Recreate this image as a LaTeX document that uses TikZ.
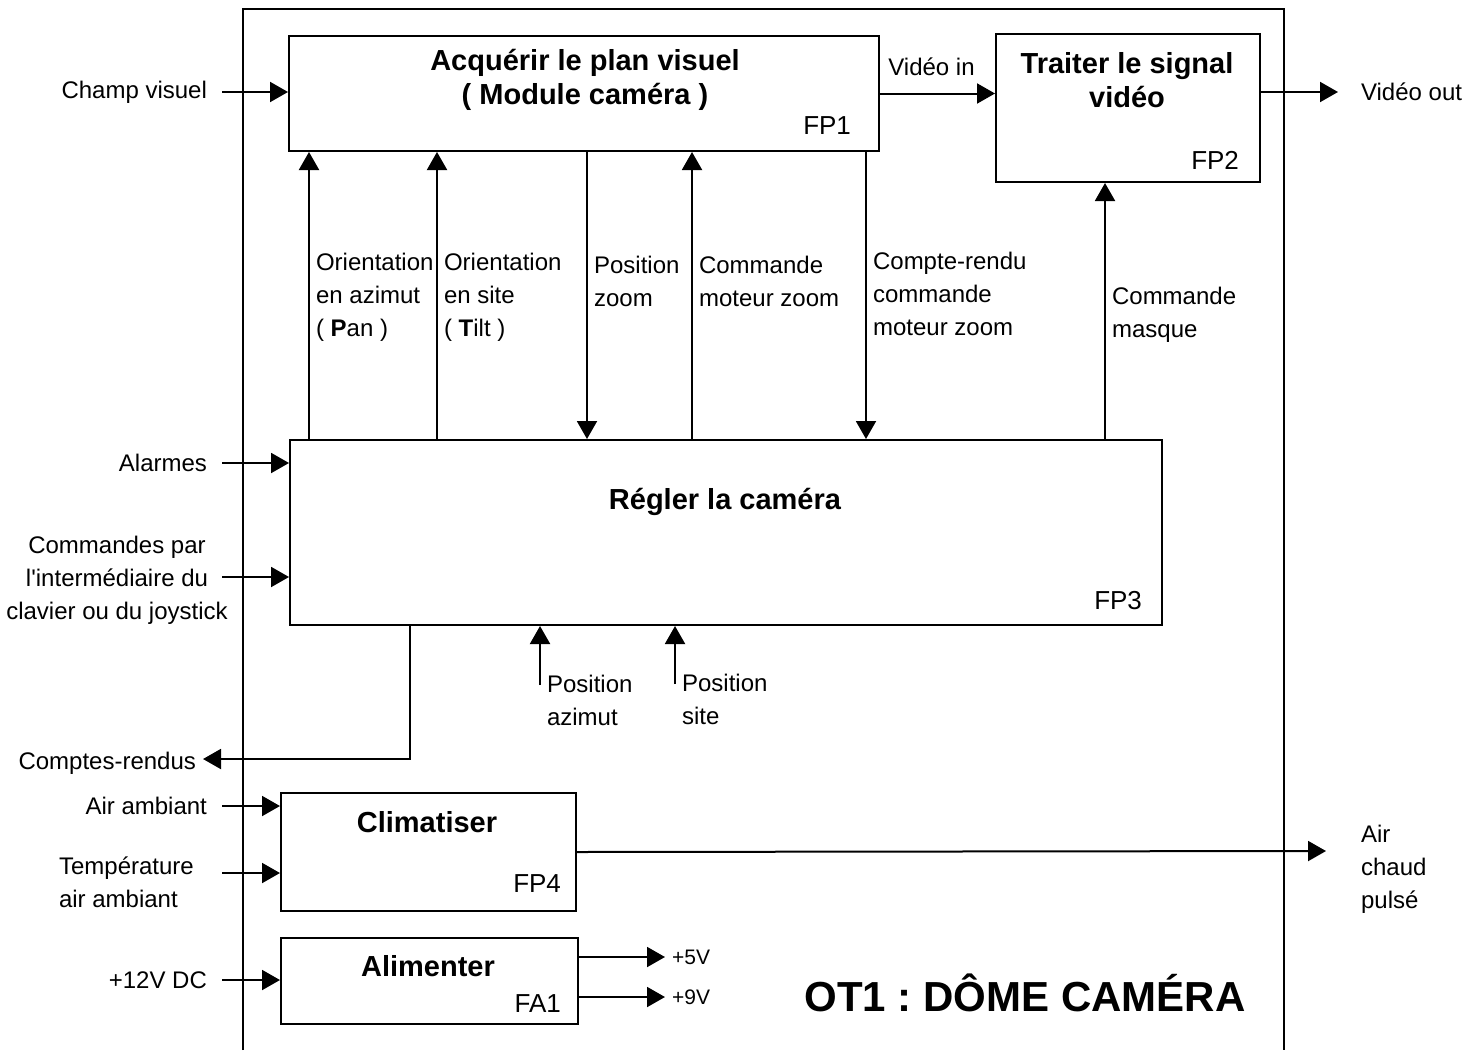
\documentclass[tikz,border=0pt]{standalone}
\usepackage{fontspec}
\setmainfont{Liberation Sans}
\usetikzlibrary{arrows.meta,positioning,calc}
\frenchspacing

\begin{document}
\begin{tikzpicture}[
    x=0.5pt, y=-0.5pt,
    font=\fontsize{12}{16.5}\selectfont,
    fbox/.style={draw, line width=1pt, anchor=north west, inner sep=0pt},
    title/.style={font=\fontsize{14.5}{17}\selectfont\bfseries, align=center},
    fpnum/.style={font=\fontsize{13}{15}\selectfont, anchor=east},
    lbl/.style={align=left},
    arrow/.style={-{Triangle[length=9pt, width=10pt]}, line width=1pt}
]
\useasboundingbox (0,0) rectangle (1482,1050);

% frame of the system
\draw[line width=1pt] (243,1050) -- (243,9) -- (1284,9) -- (1284,1050);

% functions
\node[fbox, minimum width=295pt, minimum height=57.5pt] (fp1) at (288,35) {};
\node[fbox, minimum width=132pt, minimum height=74pt] (fp2) at (995,33) {};
\node[fbox, minimum width=436pt, minimum height=92.5pt] (fp3) at (289,439) {};
\node[fbox, minimum width=147.5pt, minimum height=59pt] (fp4) at (280,792) {};
\node[fbox, minimum width=148.5pt, minimum height=43pt] (fa1) at (280,937) {};

\node[title] (fp1t) at (585,80) {Acquérir le plan visuel\\( Module caméra )};
\node[title] (fp2t) at (1127,80) {Traiter le signal\\vidéo};
\node[title] (fp3t) at (725,502) {Régler la caméra};
\node[title] (fp4t) at (427,822) {Climatiser};
\node[title] (fa1t) at (428,966) {Alimenter};

\node[fpnum] (fp1n) at (858,126) {FP1};
\node[fpnum] (fp2n) at (1246,160) {FP2};
\node[fpnum] (fp3n) at (1149,601) {FP3};
\node[fpnum] (fp4n) at (568,884) {FP4};
\node[fpnum] (fa1n) at (568,1004) {FA1};

% inputs
\coordinate (champin) at (222,92);
\node[left=4pt of champin] (champ) {Champ visuel};
\draw[arrow] (champin) -- (champin -| fp1.west);

\coordinate (alarmin) at (222,463);
\node[left=4pt of alarmin] (alarm) {Alarmes};
\draw[arrow] (alarmin) -- (alarmin -| fp3.west);

\coordinate (cmdin) at (222,577);
\node[align=center] (cmds) at (117,580) {Commandes par\\l\textquotesingle intermédiaire du\\clavier ou du joystick};
\draw[arrow] (cmdin) -- (cmdin -| fp3.west);

\coordinate (airin) at (222,806);
\node[left=4pt of airin] (air) {Air ambiant};
\draw[arrow] (airin) -- (airin -| fp4.west);

\coordinate (tempin) at (222,873);
\node[lbl, anchor=west] (temp) at (52,882) {Température\\air ambiant};
\draw[arrow] (tempin) -- (tempin -| fp4.west);

\coordinate (v12in) at (222,980);
\node[left=4pt of v12in] (v12) {+12V DC};
\draw[arrow] (v12in) -- (v12in -| fa1.west);

% links between functions
\draw[arrow] (fp1.east) -- (fp1.east -| fp2.west) node[midway, above=5pt, xshift=-3pt] (vidin) {Vidéo in};

\node[lbl, anchor=west] (pan) at (309,297) {Orientation\\en azimut\\( \textbf{P}an )};
\node[lbl, anchor=west] (tilt) at (437,297) {Orientation\\en site\\( \textbf{T}ilt )};
\node[lbl, anchor=west] (poszoom) at (587,281) {Position\\zoom};
\node[lbl, anchor=west] (cmdzoom) at (692,281) {Commande\\moteur zoom};
\node[lbl, anchor=west] (crzoom) at (866,294) {Compte-rendu\\commande\\moteur zoom};
\node[lbl, anchor=west] (masque) at (1105,315) {Commande\\masque};

\draw[arrow] (pan.west |- fp3.north) -- (pan.west |- fp1.south);
\draw[arrow] (tilt.west |- fp3.north) -- (tilt.west |- fp1.south);
\draw[arrow] (poszoom.west |- fp1.south) -- (poszoom.west |- fp3.north);
\draw[arrow] (cmdzoom.west |- fp3.north) -- (cmdzoom.west |- fp1.south);
\draw[arrow] (crzoom.west |- fp1.south) -- (crzoom.west |- fp3.north);
\draw[arrow] (masque.west |- fp3.north) -- (masque.west |- fp2.south);

% sensors under FP3
\coordinate (posazin) at (540,685);
\node[lbl, anchor=west] (posaz) at (540,700) {Position\\azimut};
\draw[arrow] (posazin) -- (posazin |- fp3.south);

\coordinate (possitein) at (675,684);
\node[lbl, anchor=west] (possite) at (675,699) {Position\\site};
\draw[arrow] (possitein) -- (possitein |- fp3.south);

% outputs
\coordinate (crknee) at (410,759);
\node[anchor=east] (comptes) at (203,763) {Comptes-rendus};
\draw[arrow] (crknee |- fp3.south) -- (crknee) -- (comptes.east |- crknee);

\node[anchor=west] (vidout) at (1354,92) {Vidéo out};
\draw[arrow] (vidout -| fp2.east) -- ([xshift=-8pt]vidout.west);

\coordinate (airend) at (1326,851);
\node[lbl, anchor=west] (airout) at (1354,869) {Air\\chaud\\pulsé};
\draw[arrow] (fp4.east) -- (airend);

\node[anchor=west, font=\fontsize{10.5}{13}\selectfont] (v5) at (665,957) {+5V};
\node[anchor=west, font=\fontsize{10.5}{13}\selectfont] (v9) at (665,997) {+9V};
\draw[arrow] (v5.west -| fa1.east) -- (v5.west);
\draw[arrow] (v9.west -| fa1.east) -- (v9.west);

\node[font=\fontsize{21}{25}\selectfont\bfseries] (ot1) at (1025,993) {OT1 : DÔME CAMÉRA};
\end{tikzpicture}
\end{document}
